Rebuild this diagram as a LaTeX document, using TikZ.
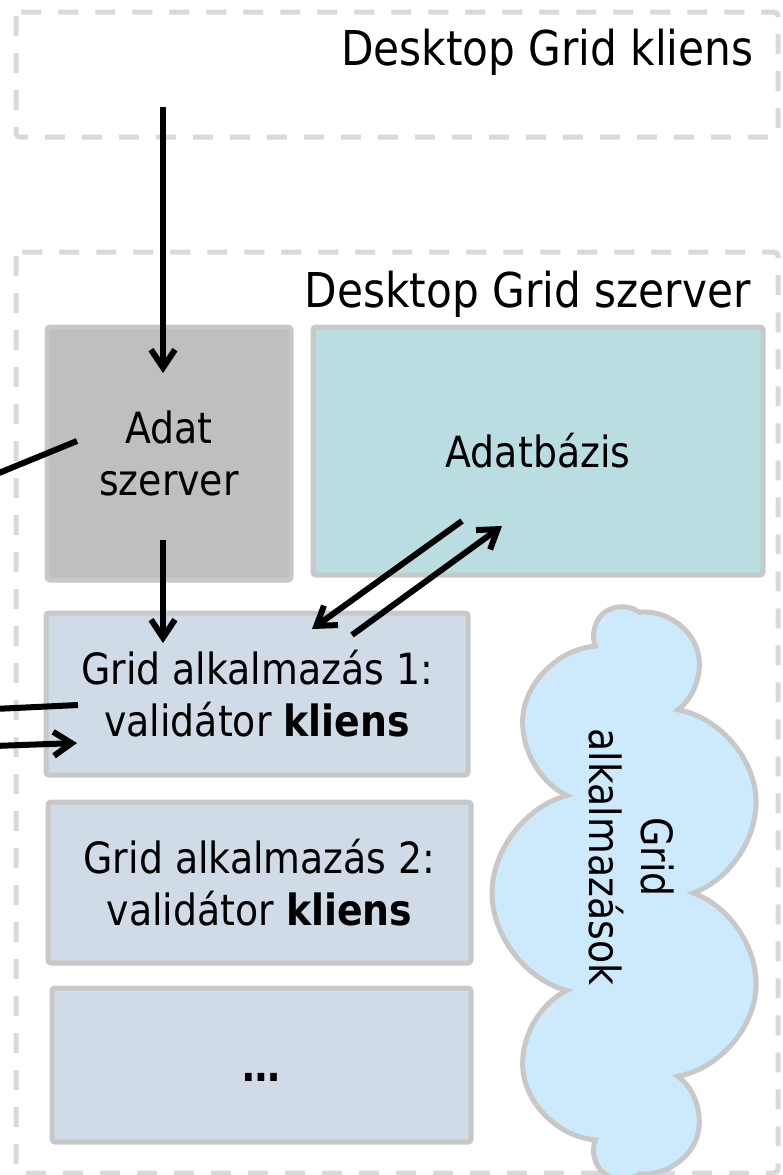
\documentclass[tikz,border=0pt]{standalone}
\usepackage{fontspec}
\setmainfont{DejaVu Sans}[FakeStretch=0.88]
\usetikzlibrary{arrows.meta,shapes.symbols}
\definecolor{szaggatott}{HTML}{D9D9D9}
\definecolor{keret}{HTML}{C8C8C8}
\definecolor{adatszurke}{HTML}{BFBFBF}
\definecolor{adatbkek}{HTML}{BADDE1}
\definecolor{alkkek}{HTML}{CFDBE6}
\definecolor{felhokek}{HTML}{CCEAFB}

\begin{document}
\begin{tikzpicture}[x=1pt,y=-1pt,
    csoport/.style={draw=szaggatott,line width=5pt,dash pattern=on 20pt off 17pt,rounded corners=4pt},
    doboz/.style={draw=keret,line width=5pt,rounded corners=3pt,inner sep=0pt,align=center,font=\fontsize{43}{52}\selectfont},
    cim/.style={anchor=base east,font=\fontsize{48}{56}\selectfont},
    nyil/.style={line width=6pt,-{Straight Barb[length=18pt,width=24pt]}},
    vonal/.style={line width=6pt}]
    \useasboundingbox (0,0) rectangle (782,1175);
    \draw[csoport] (16,12) rectangle (778,137);
    \draw[csoport] (16,252) rectangle (778,1173);
    \node[cim] (klienscim) at (757,65) {Desktop Grid kliens};
    \node[cim] (szervercim) at (754,307) {Desktop Grid szerver};
    \node[doboz,fill=adatszurke,minimum width=244pt,minimum height=253pt] (adat) at (169,453.5) {Adat\\szerver};
    \node[doboz,fill=adatbkek,minimum width=450pt,minimum height=248pt] (adatbazis) at (538,451) {Adatbázis};
    \node[doboz,fill=alkkek,minimum width=422pt,minimum height=162pt] (alk1) at (257,694) {Grid alkalmazás 1:\\validátor \textbf{kliens}};
    \node[doboz,fill=alkkek,minimum width=423pt,minimum height=161pt] (alk2) at (259.5,882.5) {Grid alkalmazás 2:\\validátor \textbf{kliens}};
    \node[doboz,fill=alkkek,minimum width=419pt,minimum height=154pt] (tobbi) at (261.5,1065) {\raisebox{-16pt}[0pt][0pt]{\textbf{…}}};
    \node[cloud,cloud puffs=9,cloud ignores aspect,draw=keret,fill=felhokek,line width=5pt,
          rotate=90,minimum width=570pt,minimum height=272pt] (felho) at (628,893) {};
    \node[rotate=-90,align=center,font=\fontsize{43}{52}\selectfont] (felhoszoveg) at (632,857) {Grid\\alkalmazások};
    \coordinate (kl) at (163,107);
    \coordinate (adbe) at (163,373);
    \coordinate (adki) at (163,540);
    \coordinate (alkbe) at (163,643);
    \coordinate (adbal) at (77,441);
    \coordinate (kintA) at (-6,475);
    \coordinate (alkbal) at (78,705);
    \coordinate (kintB) at (-6,709);
    \coordinate (kintC) at (-6,746);
    \coordinate (alkbalbe) at (77,743);
    \coordinate (dbki) at (462,521);
    \coordinate (alkjobbbe) at (312,629);
    \coordinate (alkki) at (352,635);
    \coordinate (dbbe) at (502,526);
    \draw[nyil] (kl) -- (adbe);
    \draw[nyil] (adki) -- (alkbe);
    \draw[vonal] (adbal) -- (kintA);
    \draw[vonal] (alkbal) -- (kintB);
    \draw[nyil] (kintC) -- (alkbalbe);
    \draw[nyil] (dbki) -- (alkjobbbe);
    \draw[nyil] (alkki) -- (dbbe);
\end{tikzpicture}
\end{document}
